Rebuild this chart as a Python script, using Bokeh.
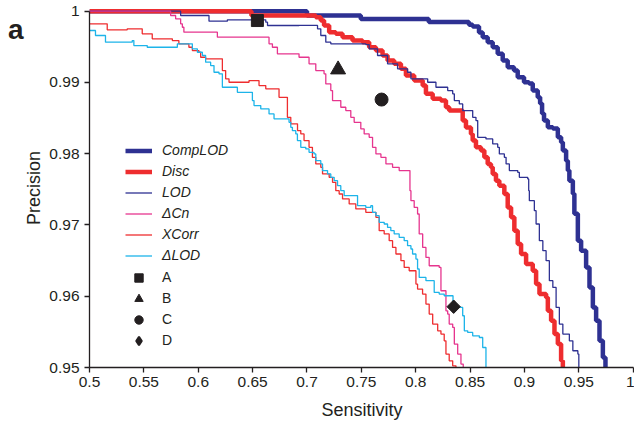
from math import pi
from bokeh.plotting import figure
from bokeh.models import Range1d, FixedTicker, Legend, LegendItem, LinearAxis
from bokeh.embed import file_html
from bokeh.resources import INLINE

# ---------------- data ----------------
x_ticks = [0.5, 0.55, 0.6, 0.65, 0.7, 0.75, 0.8, 0.85, 0.9, 0.95, 1.0]
x_tick_labels = ["0.5", "0.55", "0.6", "0.65", "0.7", "0.75", "0.8", "0.85", "0.9", "0.95", "1"]
y_ticks = [0.95, 0.96, 0.97, 0.98, 0.99, 1.0]
y_tick_labels = ["0.95", "0.96", "0.97", "0.98", "0.99", "1"]

complod_x = [0.5, 0.700, 0.7495, 0.812, 0.849, 0.8524, 0.8582, 0.8616, 0.8662, 0.8708, 0.8754, 0.8800,
             0.8846, 0.8904, 0.8938, 0.8996, 0.9042, 0.9076, 0.9122, 0.9144, 0.9162, 0.9180, 0.9215,
             0.9261, 0.9307, 0.9337, 0.9353, 0.9383, 0.9399, 0.9413, 0.9445, 0.9459, 0.9491, 0.9521,
             0.9567, 0.9598, 0.9629, 0.9659, 0.9690, 0.9721, 0.9745]
complod_y = [1.0, 0.9994, 0.9989, 0.9985, 0.9981, 0.99785, 0.9970, 0.99635, 0.99565, 0.99494, 0.99402,
             0.99308, 0.99213, 0.99167, 0.99073, 0.99003, 0.98985, 0.98886, 0.98792, 0.98704, 0.98563,
             0.98465, 0.98371, 0.98353, 0.98230, 0.98160, 0.98044, 0.97903, 0.97763, 0.97622, 0.97440,
             0.97159, 0.96780, 0.96639, 0.96404, 0.96124, 0.95843, 0.95656, 0.95375, 0.95140, 0.9490]

disc_x = [0.5, 0.6489, 0.7081, 0.7127, 0.7157, 0.7204, 0.7265, 0.7327, 0.7419, 0.7511, 0.7572, 0.7634,
          0.7695, 0.7741, 0.7802, 0.7864, 0.7910, 0.7986, 0.8064, 0.8094, 0.8156, 0.8232, 0.8278,
          0.8308, 0.8432, 0.8462, 0.8508, 0.8524, 0.8554, 0.8600, 0.8631, 0.8662, 0.8692, 0.8708,
          0.8738, 0.8769, 0.8815, 0.8846, 0.8877, 0.8907, 0.8938, 0.8969, 0.9015, 0.9076, 0.9107,
          0.9138, 0.9199, 0.9215, 0.9245, 0.9276, 0.9307, 0.9337, 0.9353]
disc_y = [1.0, 0.9994, 0.99916, 0.99869, 0.99799, 0.99705, 0.99683, 0.99635, 0.99588, 0.99565, 0.99494,
          0.99448, 0.99378, 0.99308, 0.99261, 0.99191, 0.99097, 0.99028, 0.98957, 0.98840, 0.98770,
          0.98746, 0.98652, 0.98605, 0.98465, 0.98367, 0.98278, 0.98184, 0.98090, 0.98044, 0.97949,
          0.97857, 0.97809, 0.97716, 0.97622, 0.97552, 0.97435, 0.97247, 0.97107, 0.96920, 0.96733,
          0.96593, 0.96452, 0.96358, 0.96171, 0.96031, 0.95983, 0.95796, 0.95656, 0.95469, 0.95329,
          0.95094, 0.9490]

lod_x = [0.5, 0.5838, 0.6099, 0.6268, 0.6621, 0.6637, 0.6927, 0.7097, 0.7127, 0.7173, 0.7219, 0.7541,
         0.7572, 0.7649, 0.7741, 0.7833, 0.7925, 0.7956, 0.8110, 0.8186, 0.8294, 0.8340, 0.8355,
         0.8401, 0.8432, 0.8524, 0.8554, 0.8570, 0.8646, 0.8708, 0.8754, 0.8769, 0.8815, 0.8831,
         0.8861, 0.8938, 0.8953, 0.9030, 0.9039, 0.9045, 0.9091, 0.9107, 0.9137, 0.9169, 0.9199,
         0.9229, 0.9261, 0.9291, 0.9321, 0.9353, 0.9413, 0.9445, 0.9491, 0.9500]
lod_y = [1.0, 0.99940, 0.99860, 0.99879, 0.99846, 0.99799, 0.99800, 0.99753, 0.99659, 0.99565, 0.99542,
         0.99532, 0.99472, 0.99378, 0.99261, 0.99191, 0.99143, 0.99051, 0.99003, 0.98933, 0.98886,
         0.98840, 0.98746, 0.98699, 0.98605, 0.98511, 0.98465, 0.98230, 0.98208, 0.98138, 0.98090,
         0.97997, 0.97949, 0.97857, 0.97763, 0.97739, 0.97669, 0.97646, 0.97482, 0.97341, 0.97201,
         0.97014, 0.96780, 0.96639, 0.96499, 0.96218, 0.96124, 0.95843, 0.95610, 0.95469, 0.95375,
         0.95235, 0.95188, 0.9490]

dcn_x = [0.5, 0.5746, 0.5792, 0.5838, 0.5854, 0.5868, 0.6176, 0.6651, 0.6682, 0.6728, 0.6927, 0.7019,
         0.7081, 0.7157, 0.7173, 0.7219, 0.7235, 0.7311, 0.7357, 0.7403, 0.7434, 0.7495, 0.7526,
         0.7572, 0.7603, 0.7634, 0.7680, 0.7726, 0.7787, 0.7848, 0.7947, 0.7956, 0.7986, 0.8017,
         0.8032, 0.8064, 0.8094, 0.8124, 0.8216, 0.8232, 0.8278, 0.8294, 0.8308, 0.8340, 0.8355,
         0.8386, 0.8416, 0.8437]
dcn_y = [1.0, 0.99940, 0.99893, 0.99823, 0.99775, 0.99705, 0.99635, 0.99542, 0.99494, 0.99402, 0.99354,
         0.99261, 0.99167, 0.99121, 0.98980, 0.98886, 0.98746, 0.98652, 0.98605, 0.98511, 0.98441,
         0.98348, 0.98278, 0.98230, 0.98090, 0.97997, 0.97949, 0.97857, 0.97809, 0.97763, 0.97482,
         0.97341, 0.97247, 0.97154, 0.96874, 0.96685, 0.96545, 0.96428, 0.96404, 0.96077, 0.95796,
         0.95750, 0.95610, 0.95562, 0.95329, 0.95188, 0.95048, 0.9490]

xcorr_x = [0.5, 0.5163, 0.5347, 0.5485, 0.5577, 0.5762, 0.5822, 0.5914, 0.5946, 0.6006, 0.6022, 0.6068,
           0.6222, 0.6252, 0.6283, 0.6467, 0.6559, 0.6621, 0.6743, 0.6820, 0.6851, 0.6913, 0.6943,
           0.6973, 0.7019, 0.7050, 0.7081, 0.7127, 0.7143, 0.7204, 0.7235, 0.7265, 0.7296, 0.7327,
           0.7388, 0.7449, 0.7541, 0.7634, 0.7664, 0.7710, 0.7756, 0.7787, 0.7818, 0.7864, 0.7894,
           0.7940, 0.8002, 0.8017, 0.8063, 0.8094, 0.8124, 0.8156, 0.8202, 0.8232, 0.8262, 0.8278,
           0.8308, 0.8340, 0.8370]
xcorr_y = [0.99823, 0.99739, 0.99753, 0.99683, 0.99612, 0.99588, 0.99542, 0.99494, 0.99448, 0.99424,
           0.99354, 0.99331, 0.99167, 0.99051, 0.99003, 0.99027, 0.98956, 0.98910, 0.98792, 0.98511,
           0.98419, 0.98325, 0.98278, 0.98184, 0.98090, 0.97949, 0.97857, 0.97809, 0.97716, 0.97669,
           0.97598, 0.97482, 0.97435, 0.97365, 0.97295, 0.97225, 0.97177, 0.97107, 0.96920, 0.96874,
           0.96780, 0.96685, 0.96593, 0.96499, 0.96404, 0.96358, 0.96171, 0.96101, 0.96031, 0.95890,
           0.95750, 0.95610, 0.95515, 0.95469, 0.95375, 0.95188, 0.95094, 0.95024, 0.9490]

dlod_x = [0.5, 0.5055, 0.5147, 0.5393, 0.5408, 0.5531, 0.5808, 0.5946, 0.5992, 0.6038, 0.6068, 0.6114,
          0.6145, 0.6191, 0.6222, 0.6360, 0.6498, 0.6513, 0.6575, 0.6651, 0.6697, 0.6835, 0.6851,
          0.6866, 0.6897, 0.6912, 0.6943, 0.6989, 0.7019, 0.7065, 0.7081, 0.7127, 0.7143, 0.7189,
          0.7219, 0.7250, 0.7281, 0.7311, 0.7342, 0.7465, 0.7541, 0.7587, 0.7603, 0.7634, 0.7664,
          0.7710, 0.7741, 0.7771, 0.7802, 0.7848, 0.7894, 0.7925, 0.7956, 0.7971, 0.8002, 0.8017,
          0.8032, 0.8094, 0.8170, 0.8216, 0.8262, 0.8343, 0.8432, 0.8447, 0.8478, 0.8524, 0.8585,
          0.8616, 0.8646]
dlod_y = [0.99729, 0.99659, 0.99565, 0.99588, 0.99518, 0.99494, 0.99542, 0.99472, 0.99424, 0.99378,
          0.99284, 0.99237, 0.99143, 0.99121, 0.98933, 0.98862, 0.98746, 0.98676, 0.98629, 0.98559,
          0.98489, 0.98441, 0.98371, 0.98324, 0.98278, 0.98184, 0.98090, 0.98067, 0.98020, 0.97997,
          0.97903, 0.97857, 0.97763, 0.97716, 0.97669, 0.97622, 0.97552, 0.97482, 0.97412, 0.97271,
          0.97247, 0.97271, 0.97177, 0.97131, 0.97037, 0.97014, 0.96966, 0.96920, 0.96874, 0.96826,
          0.96780, 0.96709, 0.96663, 0.96593, 0.96522, 0.96382, 0.96264, 0.96218, 0.96053, 0.96031,
          0.96007, 0.95843, 0.95726, 0.95515, 0.95492, 0.95445, 0.95421, 0.95281, 0.9490]

point_labels = ["A", "B", "C", "D"]
point_x = [0.6544, 0.7286, 0.7686, 0.8349]
point_y = [0.99869, 0.99181, 0.98760, 0.95853]

panel_letter = "a"

# ---------------- styles ----------------
NAVY = "#2E3192"
RED = "#EE2D2F"
MAGENTA = "#E6358E"
CYAN = "#1DB4E9"
BLACK = "#231F20"
FONT = "Liberation Sans"

X_END = 0.5 + 545 / 1087.4
Y_END = 1.0 + 2.7 / 7126
LETTER_POS = 1.0 - 18.3 / 7126   # vertical anchor of the panel letter (page y ~29 px)

p = figure(width=634, height=425, output_backend="svg", toolbar_location=None,
           x_range=Range1d(0.5, X_END), y_range=Range1d(0.95, Y_END),
           min_border_left=89, min_border_right=0, min_border_top=8, min_border_bottom=58,
           x_axis_label="Sensitivity", y_axis_label="Precision")
p.outline_line_color = None
p.grid.visible = False
p.background_fill_color = "white"
p.border_fill_color = "white"

series = [
    ("CompLOD", complod_x, complod_y, NAVY, 4.5),
    ("Disc", disc_x, disc_y, RED, 4.5),
    ("LOD", lod_x, lod_y, NAVY, 1.3),
    ("\u0394Cn", dcn_x, dcn_y, MAGENTA, 1.3),
    ("XCorr", xcorr_x, xcorr_y, RED, 1.3),
    ("\u0394LOD", dlod_x, dlod_y, CYAN, 1.3),
]
line_items = []
for name, xs, ys, col, w in series:
    r = p.step(xs, ys, mode="after", line_color=col, line_width=w)
    line_items.append(LegendItem(label=name, renderers=[r]))

marker_styles = [("square", 12, 0.0), ("triangle", 15, 0.0), ("circle", 13, 0.0), ("square", 9.5, pi / 4)]
point_items = []
for i, lab in enumerate(point_labels):
    mk, sz, ang = marker_styles[i]
    r = p.scatter([point_x[i]], [point_y[i]], marker=mk, size=sz, angle=ang,
                  fill_color=BLACK, line_color=BLACK)
    if lab == "D":
        # a diamond hidden inside the rotated square, used as the legend symbol
        r = p.scatter([point_x[i]], [point_y[i]], marker="diamond", size=11,
                      fill_color=BLACK, line_color=BLACK, line_width=2)
    point_items.append(LegendItem(label=lab, renderers=[r]))

common = dict(orientation="vertical", glyph_width=27, glyph_height=21, label_height=21,
              label_standoff=10, spacing=0, padding=0, margin=0, border_line_color=None,
              background_fill_alpha=0, label_text_font=FONT, label_text_font_size="14px",
              label_text_color=BLACK, label_text_baseline="middle")
leg1 = Legend(items=line_items, location=(36, 101.5), label_text_font_style="italic", **common)
leg2 = Legend(items=point_items, location=(36, 16.5), label_text_font_style="normal", **common)
p.add_layout(leg1)
p.add_layout(leg2)

for ax in (p.xaxis[0], p.yaxis[0]):
    ax.axis_line_color = BLACK
    ax.axis_line_width = 1.3
    ax.major_tick_line_color = BLACK
    ax.major_tick_line_width = 1.3
    ax.major_tick_in = 0
    ax.major_tick_out = 5
    ax.minor_tick_line_color = None
    ax.major_label_text_font = FONT
    ax.major_label_text_font_size = "15.5px"
    ax.major_label_text_color = BLACK
    ax.axis_label_text_font = FONT
    ax.axis_label_text_font_size = "18px"
    ax.axis_label_text_font_style = "normal"
    ax.axis_label_text_color = BLACK

p.xaxis[0].ticker = FixedTicker(ticks=x_ticks)
p.xaxis[0].major_label_overrides = dict(zip(x_ticks, x_tick_labels))
p.xaxis[0].bounds = (x_ticks[0], x_ticks[-1])
p.xaxis[0].major_label_standoff = 4
p.xaxis[0].axis_label_standoff = 10

p.yaxis[0].ticker = FixedTicker(ticks=y_ticks)
p.yaxis[0].major_label_overrides = dict(zip(y_ticks, y_tick_labels))
p.yaxis[0].bounds = (y_ticks[0], y_ticks[-1])
p.yaxis[0].major_label_standoff = 5
p.yaxis[0].axis_label_standoff = 2

# panel letter "a": an outer, line-less axis on the left carrying one bold label
letter_axis = LinearAxis(ticker=FixedTicker(ticks=[LETTER_POS]),
                         major_label_overrides={LETTER_POS: panel_letter},
                         axis_line_color=None, major_tick_line_color=None,
                         minor_tick_line_color=None, major_tick_in=0, major_tick_out=0,
                         major_label_standoff=-2, major_label_text_font=FONT,
                         major_label_text_font_style="bold", major_label_text_font_size="28px",
                         major_label_text_color=BLACK)
p.add_layout(letter_axis, "left")

open("out.html", "w").write(file_html(p, INLINE))
